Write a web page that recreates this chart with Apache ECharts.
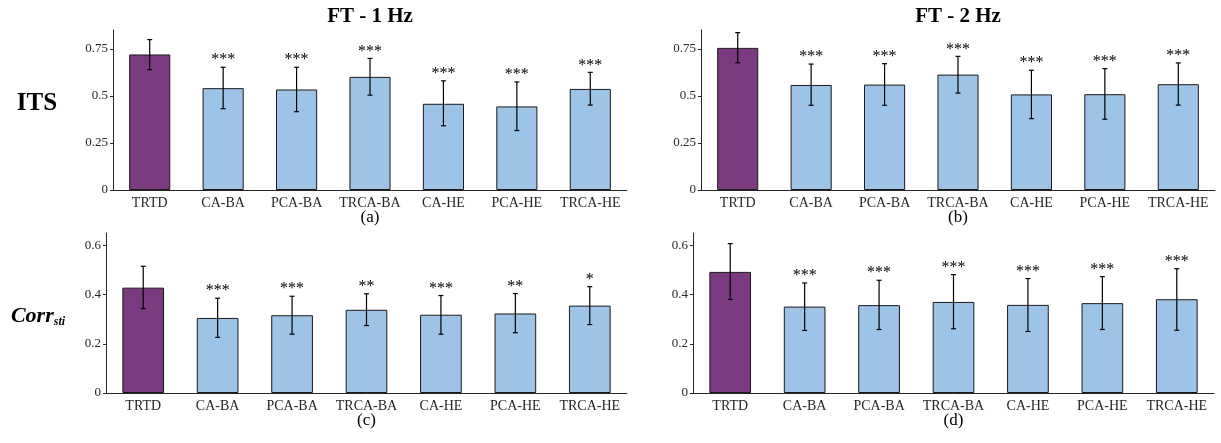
<!DOCTYPE html>
<html>
<head>
<meta charset="utf-8">
<script src="https://cdn.jsdelivr.net/npm/echarts@6/dist/echarts.min.js"></script>
<style>
html,body{margin:0;padding:0;background:#fff;}
#chart{width:1221px;height:443px;}
</style>
</head>
<body>
<div id="chart"></div>
<script>
// ---- data ----
const categories = ['TRTD', 'CA-BA', 'PCA-BA', 'TRCA-BA', 'CA-HE', 'PCA-HE', 'TRCA-HE'];

const its1Hz     = [0.720, 0.541, 0.534, 0.601, 0.458, 0.444, 0.537];
const its1HzLow  = [0.639, 0.432, 0.416, 0.504, 0.341, 0.316, 0.451];
const its1HzHigh = [0.799, 0.652, 0.652, 0.699, 0.580, 0.574, 0.625];
const its1HzSig  = ['', '***', '***', '***', '***', '***', '***'];

const its2Hz     = [0.755, 0.558, 0.560, 0.613, 0.508, 0.509, 0.562];
const its2HzLow  = [0.676, 0.450, 0.450, 0.515, 0.379, 0.376, 0.451];
const its2HzHigh = [0.836, 0.669, 0.671, 0.710, 0.636, 0.645, 0.675];
const its2HzSig  = ['', '***', '***', '***', '***', '***', '***'];

const corr1Hz     = [0.428, 0.305, 0.316, 0.338, 0.318, 0.323, 0.355];
const corr1HzLow  = [0.343, 0.226, 0.239, 0.274, 0.239, 0.245, 0.278];
const corr1HzHigh = [0.515, 0.385, 0.393, 0.403, 0.396, 0.404, 0.432];
const corr1HzSig  = ['', '***', '***', '**', '***', '**', '*'];

const corr2Hz     = [0.492, 0.351, 0.357, 0.370, 0.358, 0.365, 0.381];
const corr2HzLow  = [0.380, 0.254, 0.258, 0.261, 0.250, 0.258, 0.255];
const corr2HzHigh = [0.607, 0.447, 0.458, 0.481, 0.465, 0.473, 0.505];
const corr2HzSig  = ['', '***', '***', '***', '***', '***', '***'];

const itsTicks  = [0, 0.25, 0.5, 0.75];
const corrTicks = [0, 0.2, 0.4, 0.6];
const itsMax = 0.85;
const corrMax = 0.65;

const panelTitles = ['FT - 1 Hz', 'FT - 2 Hz'];
const panelTags = ['(a)', '(b)', '(c)', '(d)'];

// ---- style ----
const FONT = '"Liberation Serif", "Times New Roman", serif';
const PURPLE = '#7B3B80';
const BLUE = '#9DC3E6';
const AXIS = '#262626';

const grids = [
  {left: 113, top: 30, width: 514, height: 160},
  {left: 701, top: 30, width: 514, height: 160},
  {left: 106, top: 233, width: 521, height: 160},
  {left: 693, top: 233, width: 521, height: 160}
];

const panels = [
  {vals: its1Hz, lo: its1HzLow, hi: its1HzHigh, sig: its1HzSig, ticks: itsTicks, max: itsMax},
  {vals: its2Hz, lo: its2HzLow, hi: its2HzHigh, sig: its2HzSig, ticks: itsTicks, max: itsMax},
  {vals: corr1Hz, lo: corr1HzLow, hi: corr1HzHigh, sig: corr1HzSig, ticks: corrTicks, max: corrMax},
  {vals: corr2Hz, lo: corr2HzLow, hi: corr2HzHigh, sig: corr2HzSig, ticks: corrTicks, max: corrMax}
];

function errRender(sigs) {
  return function (params, api) {
    const i = api.value(0);
    const lo = api.coord([i, api.value(1)]);
    const hi = api.coord([i, api.value(2)]);
    const x = lo[0];
    const cap = 2.5;
    const st = {stroke: '#000', lineWidth: 1.2};
    const children = [
      {type: 'line', shape: {x1: x, y1: lo[1], x2: x, y2: hi[1]}, style: st},
      {type: 'line', shape: {x1: x - cap, y1: lo[1], x2: x + cap, y2: lo[1]}, style: st},
      {type: 'line', shape: {x1: x - cap, y1: hi[1], x2: x + cap, y2: hi[1]}, style: st}
    ];
    const s = sigs[i];
    if (s) {
      children.push({
        type: 'text', x: x, y: hi[1] - 7,
        style: {text: s, align: 'center', verticalAlign: 'middle', font: '16px ' + FONT, fill: '#000'}
      });
    }
    return {type: 'group', children: children};
  };
}

const xAxes = [], yAxes = [], series = [];
panels.forEach((p, k) => {
  xAxes.push({
    type: 'category', gridIndex: k, data: categories, boundaryGap: true,
    axisLine: {lineStyle: {color: AXIS, width: 1}},
    axisTick: {show: false},
    axisLabel: {color: AXIS, fontFamily: FONT, fontSize: 14, margin: 6, interval: 0}
  });
  yAxes.push({
    type: 'value', gridIndex: k, min: 0, max: p.max,
    splitLine: {show: false},
    axisLine: {show: true, lineStyle: {color: AXIS, width: 1}},
    axisTick: {show: true, length: 3, inside: false, customValues: p.ticks, lineStyle: {color: AXIS}},
    axisLabel: {color: AXIS, fontFamily: FONT, fontSize: 13, margin: 5, customValues: p.ticks,
      formatter: v => String(v)}
  });
  series.push({
    type: 'bar', xAxisIndex: k, yAxisIndex: k, barWidth: '56%',
    data: p.vals.map((v, i) => ({value: v, itemStyle: {color: i === 0 ? PURPLE : BLUE}})),
    itemStyle: {borderColor: '#1a1a1a', borderWidth: 1},
    silent: true, animation: false
  });
  series.push({
    type: 'custom', xAxisIndex: k, yAxisIndex: k, z: 5,
    data: categories.map((c, i) => [i, p.lo[i], p.hi[i]]),
    encode: {x: 0, y: [1, 2]},
    renderItem: errRender(p.sig),
    silent: true, animation: false
  });
});

function centerX(g) { return g.left + g.width / 2; }

const graphics = [
  {type: 'text', x: centerX(grids[0]), y: 17, style: {text: panelTitles[0], align: 'center', verticalAlign: 'middle', font: 'bold 21px ' + FONT, fill: '#000'}},
  {type: 'text', x: centerX(grids[1]), y: 17, style: {text: panelTitles[1], align: 'center', verticalAlign: 'middle', font: 'bold 21px ' + FONT, fill: '#000'}},
  {type: 'text', x: centerX(grids[0]), y: 218, style: {text: panelTags[0], align: 'center', verticalAlign: 'middle', font: '17px ' + FONT, fill: '#000'}},
  {type: 'text', x: centerX(grids[1]), y: 218, style: {text: panelTags[1], align: 'center', verticalAlign: 'middle', font: '17px ' + FONT, fill: '#000'}},
  {type: 'text', x: centerX(grids[2]), y: 421, style: {text: panelTags[2], align: 'center', verticalAlign: 'middle', font: '17px ' + FONT, fill: '#000'}},
  {type: 'text', x: centerX(grids[3]), y: 421, style: {text: panelTags[3], align: 'center', verticalAlign: 'middle', font: '17px ' + FONT, fill: '#000'}},
  {type: 'text', x: 37, y: 104, style: {text: 'ITS', align: 'center', verticalAlign: 'middle', font: 'bold 25px ' + FONT, fill: '#000'}},
  {type: 'text', x: 38, y: 316, style: {
    text: '{a|Corr}{b|sti}', align: 'center', verticalAlign: 'middle',
    rich: {
      a: {fontFamily: FONT, fontSize: 22, fontWeight: 'bold', fontStyle: 'italic', fill: '#000', verticalAlign: 'bottom'},
      b: {fontFamily: FONT, fontSize: 12, fontWeight: 'bold', fontStyle: 'italic', fill: '#000', verticalAlign: 'bottom', padding: [0, 0, -1, 0]}
    }
  }}
];

const chart = echarts.init(document.getElementById('chart'), null, {renderer: 'canvas'});
chart.setOption({
  animation: false,
  backgroundColor: '#fff',
  grid: grids.map(g => Object.assign({containLabel: false}, g)),
  xAxis: xAxes,
  yAxis: yAxes,
  series: series,
  graphic: graphics
});
</script>
</body>
</html>
